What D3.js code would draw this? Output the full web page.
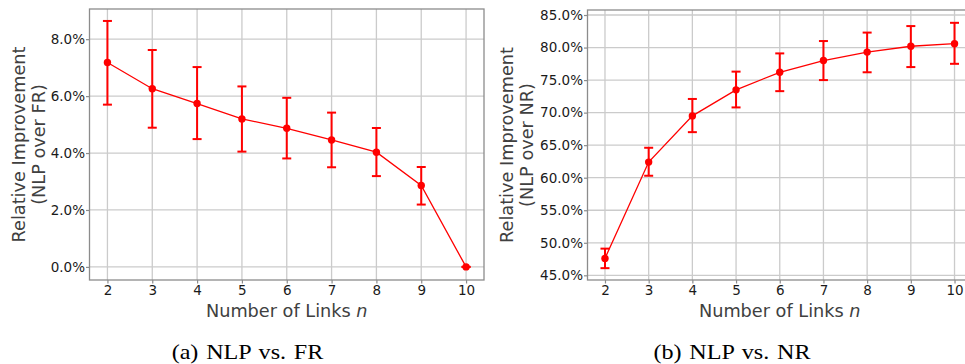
<!DOCTYPE html>
<html>
<head>
<meta charset="utf-8">
<script src="https://d3js.org/d3.v7.min.js"></script>
<style>
  body { margin: 0; background: #fff; }
  svg { display: block; }
</style>
</head>
<body>
<svg id="chart" width="965" height="364"></svg>
<script>
// number of links
var links = [2, 3, 4, 5, 6, 7, 8, 9, 10]

// (a) NLP vs. FR, in percent
var frMean = [7.18, 6.26, 5.74, 5.20, 4.87, 4.46, 4.03, 2.86, 0.0]
var frLow  = [5.70, 4.89, 4.49, 4.05, 3.81, 3.50, 3.19, 2.19, 0.0]
var frHigh = [8.64, 7.62, 7.02, 6.34, 5.94, 5.42, 4.88, 3.51, 0.0]
var frTicks = [0, 2, 4, 6, 8]

// (b) NLP vs. NR, in percent
var nrMean = [47.6, 62.4, 69.5, 73.5, 76.2, 78.0, 79.3, 80.2, 80.6]
var nrLow  = [46.1, 60.3, 67.0, 70.8, 73.3, 75.0, 76.2, 77.0, 77.5]
var nrHigh = [49.1, 64.6, 72.1, 76.3, 79.1, 81.0, 82.3, 83.3, 83.8]
var nrTicks = [45, 50, 55, 60, 65, 70, 75, 80, 85]

var panels = [
  { mean: frMean, low: frLow, high: frHigh, ticks: frTicks, ydom: [-0.46, 9.06],
    left: 89.5, right: 484, top: 9, bottom: 280, label: 'FR', caption: '(a) NLP vs. FR',
    ylabX: 19, capX: 247.5 },
  { mean: nrMean, low: nrLow, high: nrHigh, ticks: nrTicks, ydom: [44.28, 85.77],
    left: 587.5, right: 972, top: 10, bottom: 280, label: 'NR', caption: '(b) NLP vs. NR',
    ylabX: 507, capX: 732 }
]

var svg = d3.select('#chart')
var red = '#ff0000'
var font = 'DejaVu Sans, sans-serif'

panels.forEach(function (p) {
  var x = d3.scaleLinear().domain([1.6, 10.4]).range([p.left, p.right])
  var y = d3.scaleLinear().domain(p.ydom).range([p.bottom, p.top])
  var g = svg.append('g')

  // grid
  g.selectAll('.vg').data(links).enter().append('line')
    .attr('x1', function (d) { return x(d) }).attr('x2', function (d) { return x(d) })
    .attr('y1', p.top).attr('y2', p.bottom)
    .attr('stroke', '#cbcbcb').attr('stroke-width', 1.3)
  g.selectAll('.hg').data(p.ticks).enter().append('line')
    .attr('y1', function (d) { return y(d) }).attr('y2', function (d) { return y(d) })
    .attr('x1', p.left).attr('x2', p.right)
    .attr('stroke', '#cbcbcb').attr('stroke-width', 1.3)

  // axes
  var xa = g.append('g').attr('transform', 'translate(0,' + p.bottom + ')')
    .call(d3.axisBottom(x).tickValues(links).tickSize(3.5).tickSizeOuter(0).tickPadding(1.5))
  var ya = g.append('g').attr('transform', 'translate(' + p.left + ',0)')
    .call(d3.axisLeft(y).tickValues(p.ticks).tickSize(3.5).tickSizeOuter(0).tickPadding(1)
      .tickFormat(function (d) { return d.toFixed(1) + '%' }))
  ;[xa, ya].forEach(function (a) {
    a.select('.domain').remove()
    a.selectAll('line').attr('stroke', '#8c8c8c').attr('stroke-width', 1.2)
    a.selectAll('text').attr('font-family', font).attr('font-size', 13.5).attr('fill', '#1a1a1a')
  })

  // frame
  g.append('rect').attr('x', p.left).attr('y', p.top)
    .attr('width', p.right - p.left).attr('height', p.bottom - p.top)
    .attr('fill', 'none').attr('stroke', '#8c8c8c').attr('stroke-width', 1.3)

  // error bars
  var eb = g.selectAll('.eb').data(links).enter().append('g')
  eb.append('line')
    .attr('x1', function (d) { return x(d) }).attr('x2', function (d) { return x(d) })
    .attr('y1', function (d, i) { return y(p.low[i]) }).attr('y2', function (d, i) { return y(p.high[i]) })
    .attr('stroke', red).attr('stroke-width', 2)
  ;['low', 'high'].forEach(function (k) {
    eb.append('line')
      .attr('x1', function (d) { return x(d) - 4.5 }).attr('x2', function (d) { return x(d) + 4.5 })
      .attr('y1', function (d, i) { return y(p[k][i]) }).attr('y2', function (d, i) { return y(p[k][i]) })
      .attr('stroke', red).attr('stroke-width', 2)
  })

  // line + markers
  var line = d3.line().x(function (d) { return x(d) }).y(function (d, i) { return y(p.mean[i]) })
  g.append('path').datum(links).attr('d', line)
    .attr('fill', 'none').attr('stroke', red).attr('stroke-width', 1.3)
  g.selectAll('.pt').data(links).enter().append('circle')
    .attr('cx', function (d) { return x(d) }).attr('cy', function (d, i) { return y(p.mean[i]) })
    .attr('r', 3.7).attr('fill', red)

  // labels
  var cx = (p.left + p.right) / 2
  g.append('text').attr('x', cx).attr('y', 316.5).attr('text-anchor', 'middle')
    .attr('font-family', font).attr('font-size', 17.7).attr('fill', '#404040')
    .html('Number of Links <tspan font-style="italic">n</tspan>')
  var ym = (p.top + p.bottom) / 2
  var yl = g.append('text').attr('transform', 'translate(' + p.ylabX + ',' + ym + ') rotate(-90)')
    .attr('text-anchor', 'middle').attr('font-family', font).attr('font-size', 17.7).attr('fill', '#404040')
  yl.append('tspan').attr('x', 0).attr('dy', '0.35em').text('Relative Improvement')
  yl.append('tspan').attr('x', 0).attr('dy', '1.1em').text('(NLP over ' + p.label + ')')
  g.append('text').attr('transform', 'translate(' + p.capX + ',359) scale(1.15,1)')
    .attr('text-anchor', 'middle')
    .attr('font-family', 'Liberation Serif, Times New Roman, serif').attr('font-size', 21)
    .attr('word-spacing', 1.5).attr('fill', '#000')
    .text(p.caption)
})
</script>
</body>
</html>
